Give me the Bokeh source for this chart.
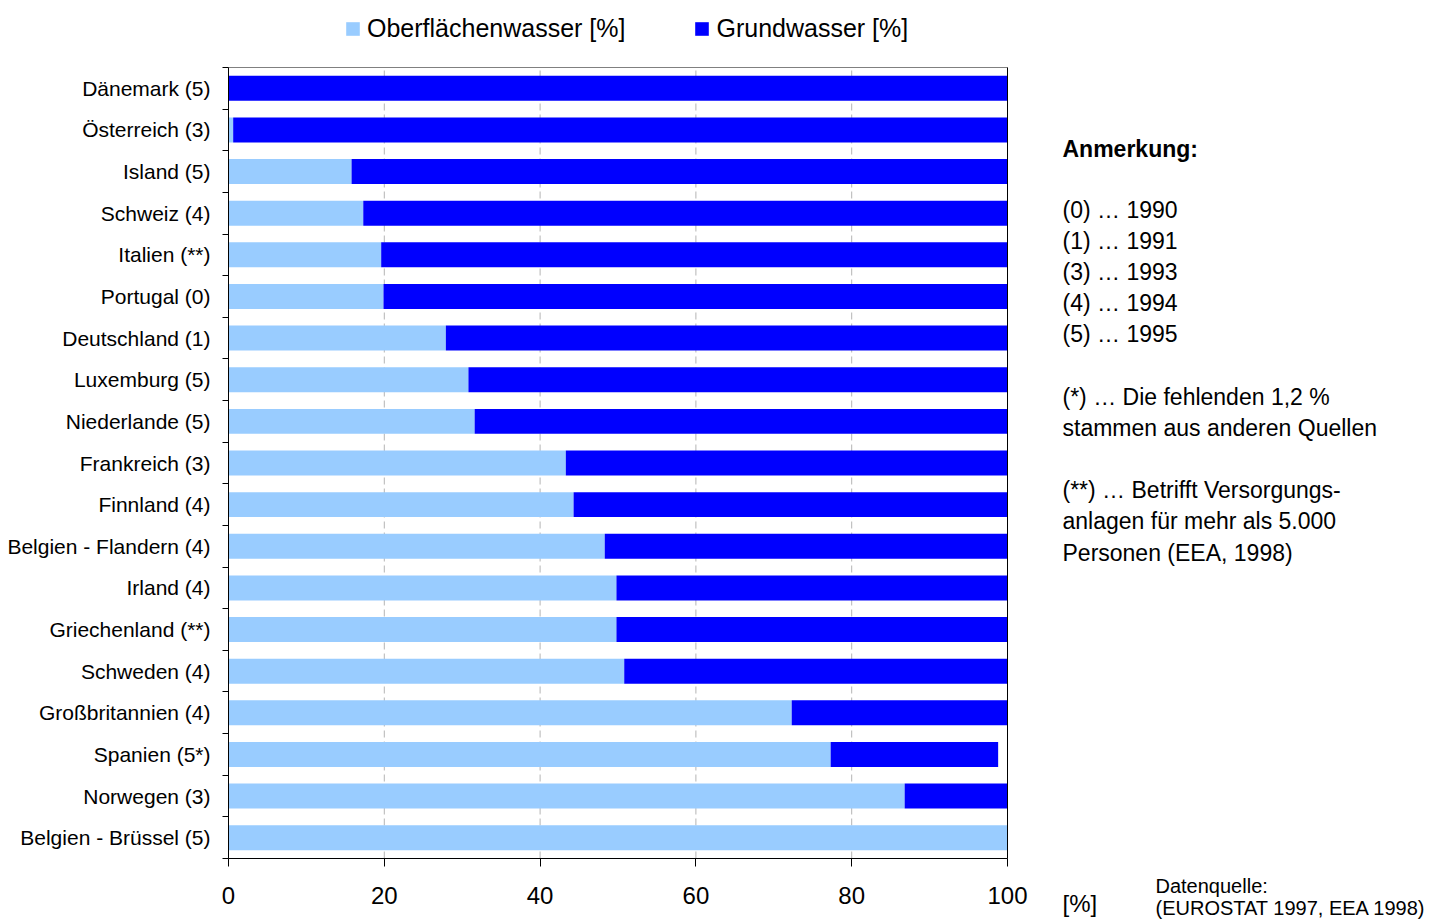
from bokeh.plotting import figure
from bokeh.models import (Range1d, FixedTicker, Legend, LegendItem, Label,
                          LinearAxis, ColumnDataSource)
from bokeh.embed import file_html
from bokeh.resources import INLINE

# Share of drinking-water supply by source (percent), top row first
countries = [
    "Dänemark (5)", "Österreich (3)", "Island (5)", "Schweiz (4)", "Italien (**)",
    "Portugal (0)", "Deutschland (1)", "Luxemburg (5)", "Niederlande (5)",
    "Frankreich (3)", "Finnland (4)", "Belgien - Flandern (4)", "Irland (4)",
    "Griechenland (**)", "Schweden (4)", "Großbritannien (4)", "Spanien (5*)",
    "Norwegen (3)", "Belgien - Brüssel (5)",
]
oberflaechenwasser = [0.0, 0.6, 15.8, 17.3, 19.6, 19.9, 27.9, 30.8, 31.6, 43.3,
                      44.3, 48.3, 49.8, 49.8, 50.8, 72.3, 77.3, 86.8, 100.0]
grundwasser = [100.0, 99.4, 84.2, 82.7, 80.4, 80.1, 72.1, 69.2, 68.4, 56.7,
               55.7, 51.7, 50.2, 50.2, 49.2, 27.7, 21.5, 13.2, 0.0]
x_ticks = [0, 20, 40, 60, 80, 100]
grid_ticks = [20, 40, 60, 80]

FONT = "Liberation Sans"
LIGHT = "#99CCFF"
DARK = "#0000FF"

n = len(countries)
ypos = [n - i - 0.5 for i in range(n)]
gw_end = [a + b for a, b in zip(oberflaechenwasser, grundwasser)]

src = ColumnDataSource(dict(y=ypos, ow=oberflaechenwasser, gw_end=gw_end))

# canvas and position of the bar area inside it (pixels)
W, H = 1434, 921
LEFT, RIGHT, TOP, BOTTOM = 228, 1007, 67, 858
ux = (RIGHT - LEFT) / 100.0      # pixels per percent
uy = (BOTTOM - TOP) / n          # pixels per row

# the frame covers the whole canvas; axes sit at fixed data locations
x_range = Range1d(-LEFT / ux, 100 + (W - RIGHT) / ux)
y_range = Range1d(-(H - BOTTOM) / uy, n + TOP / uy)

p = figure(width=W, height=H, output_backend="svg", toolbar_location=None,
           x_range=x_range, y_range=y_range,
           x_axis_location=None, y_axis_location=None,
           min_border=0, min_border_left=0, min_border_right=0,
           min_border_top=0, min_border_bottom=0)
p.background_fill_color = "white"
p.border_fill_color = "white"
p.outline_line_color = None
p.xgrid.visible = False
p.ygrid.visible = False

# dashed vertical grid lines
p.segment(x0=grid_ticks, x1=grid_ticks, y0=[0] * len(grid_ticks), y1=[n] * len(grid_ticks),
          line_color="#b4b4b4", line_dash="7 4", line_width=1)

bar_h = 0.6
r_ow = p.hbar(y="y", left=0, right="ow", height=bar_h, source=src,
              fill_color=LIGHT, line_color=None)
r_gw = p.hbar(y="y", left="ow", right="gw_end", height=bar_h, source=src,
              fill_color=DARK, line_color=None)

# frame: grey top edge, black right edge
p.segment(x0=[0], x1=[100], y0=[n], y1=[n], line_color="#808080", line_width=1)
p.segment(x0=[100], x1=[100], y0=[0], y1=[n], line_color="black", line_width=1)

# x axis
xa = LinearAxis(fixed_location=0, bounds=(0, 100))
xa.ticker = FixedTicker(ticks=x_ticks)
xa.axis_line_color = "black"
xa.major_tick_line_color = "black"
xa.major_tick_out = 8
xa.major_tick_in = 0
xa.minor_tick_line_color = None
xa.major_label_text_font = FONT
xa.major_label_text_font_size = "24px"
xa.major_label_text_color = "black"
xa.major_label_standoff = 20
p.add_layout(xa, "below")

# y axis: names at row centres, small ticks at row boundaries
ya = LinearAxis(fixed_location=0, bounds=(0, n))
ya.ticker = FixedTicker(ticks=ypos, minor_ticks=list(range(n + 1)))
ya.major_label_overrides = {y: c for y, c in zip(ypos, countries)}
ya.axis_line_color = "black"
ya.major_tick_line_color = None
ya.major_tick_out = 0
ya.major_tick_in = 0
ya.minor_tick_line_color = "black"
ya.minor_tick_out = 6
ya.minor_tick_in = 0
ya.major_label_text_font = FONT
ya.major_label_text_font_size = "21px"
ya.major_label_text_color = "black"
ya.major_label_standoff = 12
p.add_layout(ya, "left")

# legend at the top
legend = Legend(items=[LegendItem(label="Oberflächenwasser [%]", renderers=[r_ow]),
                       LegendItem(label="Grundwasser [%]", renderers=[r_gw])],
                orientation="horizontal", location=(344, H - 43),
                glyph_width=17, glyph_height=17, label_standoff=6, spacing=68,
                padding=0, margin=0, border_line_color=None,
                background_fill_alpha=0,
                label_text_font=FONT, label_text_font_size="25px",
                label_text_color="black")
p.add_layout(legend, "center")


def sx(px):
    return (px - LEFT) / ux


def sy(py):
    return (BOTTOM - py) / uy


notes = [
    ("Anmerkung:", 148, "bold"),
    ("(0) … 1990", 209, "normal"),
    ("(1) … 1991", 240, "normal"),
    ("(3) … 1993", 271, "normal"),
    ("(4) … 1994", 302, "normal"),
    ("(5) … 1995", 333, "normal"),
    ("(*)  … Die fehlenden 1,2 %", 396, "normal"),
    ("stammen aus anderen Quellen", 427, "normal"),
    ("(**) … Betrifft Versorgungs-", 489, "normal"),
    ("anlagen für mehr als 5.000", 520, "normal"),
    ("Personen (EEA, 1998)", 552, "normal"),
]
for txt, py, style in notes:
    p.add_layout(Label(x=sx(1062), y=sy(py), text=txt, text_font=FONT,
                       text_font_size="23px", text_font_style=style,
                       text_color="black", text_baseline="middle", text_align="left"))

p.add_layout(Label(x=sx(1062), y=sy(903), text="[%]", text_font=FONT,
                   text_font_size="24px", text_color="black",
                   text_baseline="middle", text_align="left"))
p.add_layout(Label(x=sx(1155), y=sy(885), text="Datenquelle:", text_font=FONT,
                   text_font_size="20px", text_color="black",
                   text_baseline="middle", text_align="left"))
p.add_layout(Label(x=sx(1155), y=sy(907), text="(EUROSTAT 1997, EEA 1998)", text_font=FONT,
                   text_font_size="20px", text_color="black",
                   text_baseline="middle", text_align="left"))

open("out.html", "w").write(file_html(p, INLINE))
